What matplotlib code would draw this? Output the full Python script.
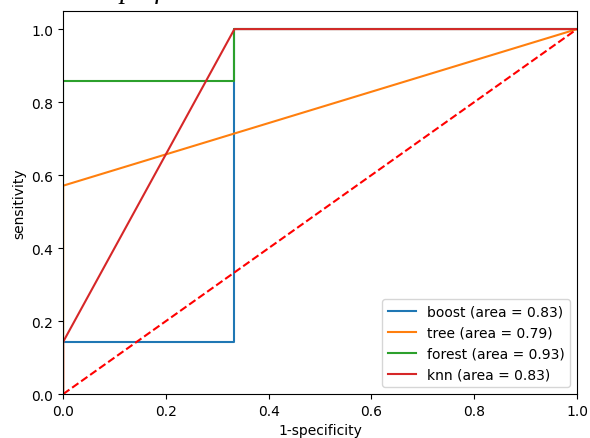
import matplotlib
matplotlib.use("Agg")
import matplotlib.pyplot as plt

# ROC points
boost_fpr = [0, 0, 1/3, 1/3, 1]
boost_tpr = [0, 0.143, 0.143, 1, 1]
tree_fpr = [0, 0, 1]
tree_tpr = [0, 0.571, 1]
forest_fpr = [0, 0, 1/3, 1/3, 1]
forest_tpr = [0, 0.857, 0.857, 1, 1]
knn_fpr = [0, 0, 1/3, 1]
knn_tpr = [0, 0.143, 1, 1]

labels = ["boost (area = 0.83)", "tree (area = 0.79)",
          "forest (area = 0.93)", "knn (area = 0.83)"]

fig = plt.figure(figsize=(5.9, 4.39), dpi=100)
ax = fig.add_axes([0.107, 0.100, 0.871, 0.873])

ax.plot(boost_fpr, boost_tpr, label=labels[0])
ax.plot(tree_fpr, tree_tpr, label=labels[1])
ax.plot(forest_fpr, forest_tpr, label=labels[2])
ax.plot(knn_fpr, knn_tpr, label=labels[3])
ax.plot([0, 1], [0, 1], 'r--')

ax.set_xlim(0, 1)
ax.set_ylim(0, 1.05)
ax.set_xlabel("1-specificity")
ax.set_ylabel("sensitivity")
ax.legend(loc="lower right")

# title of the page above, mostly cut off by the screenshot edge
fig.text(0.022, 1 + 1.5 / 439, "ROC Graph for the Test", family="Liberation Serif",
         style="italic", fontsize=20, va="baseline")

fig.savefig("out.png", dpi=100)
